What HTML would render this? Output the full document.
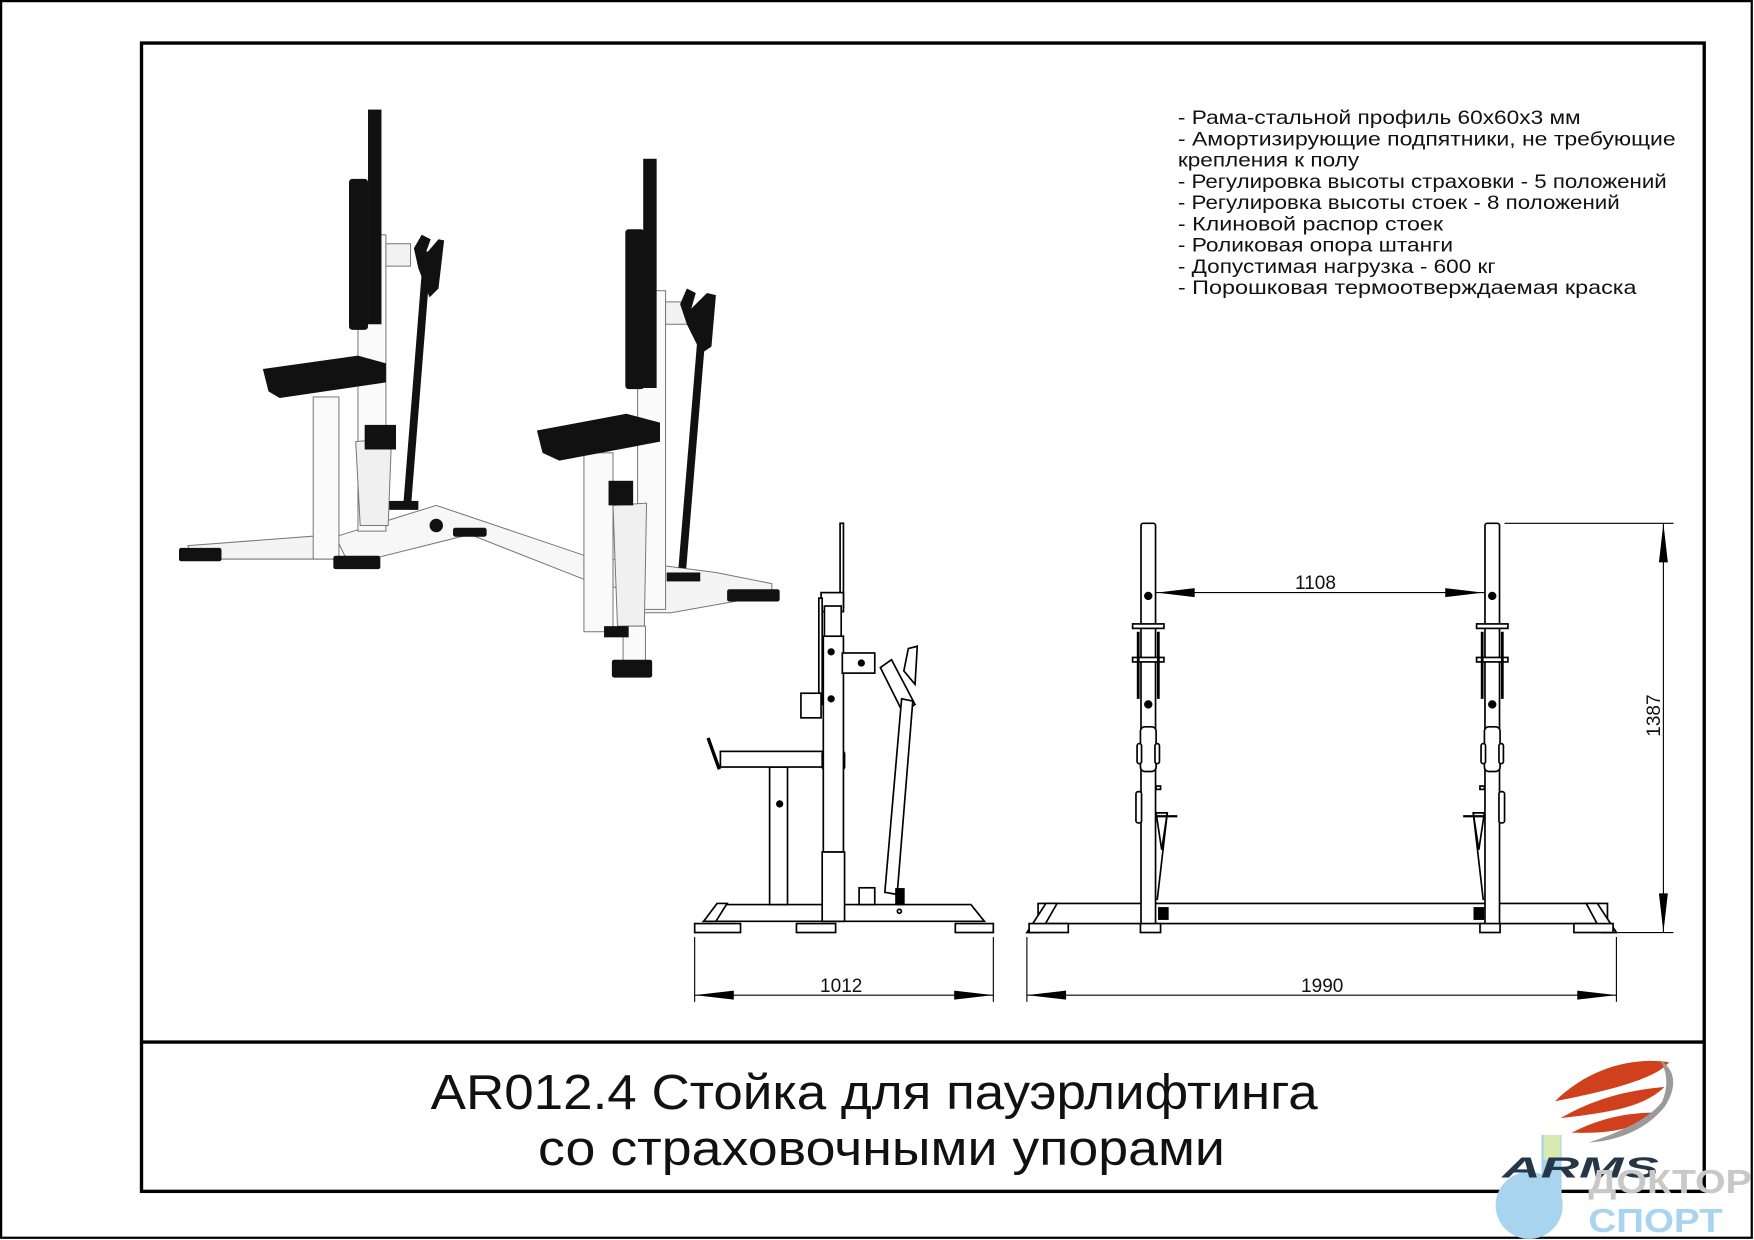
<!DOCTYPE html>
<html><head><meta charset="utf-8"><style>
html,body{margin:0;padding:0;background:#fff;}
svg{display:block;}
text{font-family:"Liberation Sans","DejaVu Sans",sans-serif;}
</style></head><body>
<svg width="1754" height="1240" viewBox="0 0 1568 1109" preserveAspectRatio="none" xmlns="http://www.w3.org/2000/svg">
<defs>
<g id="up" fill="#fff" stroke="#000" stroke-width="1.5">
  <rect x="-6.5" y="468" width="13" height="360" rx="2"/>
  <circle cx="0" cy="533" r="3" fill="#000"/>
  <circle cx="0" cy="630" r="3" fill="#000"/>
  <rect x="-14" y="558" width="28" height="4"/>
  <rect x="-14" y="588" width="28" height="4"/>
  <line x1="-9" y1="565" x2="-9" y2="625" stroke-width="2.5"/>
  <line x1="9" y1="565" x2="9" y2="625" stroke-width="2.5"/>
  <rect x="-7" y="650" width="14" height="40" rx="4"/>
  <rect x="-10" y="665" width="4" height="18" rx="2"/>
  <rect x="6" y="665" width="4" height="18" rx="2"/>
  <rect x="-11" y="708" width="5" height="28" rx="2"/>
  <rect x="7" y="703" width="4" height="3"/>
  <polygon points="7,727 17,727 12,760"/>
  <line x1="7" y1="730" x2="26" y2="730" stroke-width="2"/>
  <line x1="17" y1="727" x2="8" y2="805"/>
  <rect x="-7" y="826" width="18" height="8"/>
</g>
</defs>
<rect x="1" y="1" width="1565" height="1106" fill="none" stroke="#000" stroke-width="2"/>
<rect x="126.5" y="38.5" width="1397" height="1027" fill="none" stroke="#000" stroke-width="3"/>
<line x1="126" y1="932" x2="1524" y2="932" stroke="#000" stroke-width="3"/>

<!-- spec text -->
<g font-size="17.5" fill="#111" lengthAdjust="spacingAndGlyphs">
<text x="1053" y="111" textLength="360" lengthAdjust="spacingAndGlyphs">- Рама-стальной профиль 60x60x3 мм</text>
<text x="1053" y="130" textLength="445" lengthAdjust="spacingAndGlyphs">- Амортизирующие подпятники, не требующие</text>
<text x="1053" y="149" textLength="162" lengthAdjust="spacingAndGlyphs">крепления к полу</text>
<text x="1053" y="168" textLength="437" lengthAdjust="spacingAndGlyphs">- Регулировка высоты страховки - 5 положений</text>
<text x="1053" y="187" textLength="395" lengthAdjust="spacingAndGlyphs">- Регулировка высоты стоек - 8 положений</text>
<text x="1053" y="206" textLength="237" lengthAdjust="spacingAndGlyphs">- Клиновой распор стоек</text>
<text x="1053" y="225" textLength="246" lengthAdjust="spacingAndGlyphs">- Роликовая опора штанги</text>
<text x="1053" y="244" textLength="284" lengthAdjust="spacingAndGlyphs">- Допустимая нагрузка - 600 кг</text>
<text x="1053" y="263" textLength="410" lengthAdjust="spacingAndGlyphs">- Порошковая термоотверждаемая краска</text>
</g>

<!-- title -->
<g font-size="44" fill="#111">
<text x="385" y="992" textLength="793" lengthAdjust="spacingAndGlyphs">AR012.4 Стойка для пауэрлифтинга</text>
<text x="481" y="1042" textLength="614" lengthAdjust="spacingAndGlyphs">со страховочными упорами</text>
</g>

<!-- 3D render approximation -->
<g stroke="#777" stroke-width="0.9">
 <polygon points="168,488 300,478 302,500 172,500" fill="#f4f4f4"/>
 <polygon points="300,480 390,452 532,500 532,522 420,478 312,505" fill="#f7f7f7"/>
 <polygon points="532,498 640,512 690,522 690,532 600,548 575,548 575,530 532,522" fill="#f4f4f4"/>
 <rect x="280" y="355" width="23" height="145" fill="#fafafa"/>
 <rect x="320" y="210" width="25" height="265" fill="#fafafa"/>
 <polygon points="318,395 350,392 347,470 322,470" fill="#f0f0f0"/>
 <rect x="522" y="405" width="26" height="160" fill="#fafafa"/>
 <rect x="570" y="260" width="25" height="285" fill="#fafafa"/>
 <polygon points="548,452 578,450 576,560 552,560" fill="#f0f0f0"/>
 <rect x="557" y="560" width="20" height="40" fill="#fafafa"/>
 <rect x="345" y="218" width="22" height="20" fill="#f2f2f2"/>
 <rect x="595" y="270" width="22" height="20" fill="#f2f2f2"/>
</g>
<g fill="#111">
 <rect x="329" y="98" width="12" height="192"/>
 <rect x="312" y="160" width="17" height="135" rx="3"/>
 <rect x="575" y="142" width="12" height="205"/>
 <rect x="559" y="205" width="17" height="143" rx="3"/>
 <polygon points="235,330 320,318 345,325 345,342 250,356 240,350"/>
 <polygon points="480,385 560,370 590,378 590,395 500,412 485,405"/>
 <rect x="326" y="380" width="28" height="22"/>
 <rect x="544" y="430" width="22" height="22"/>
 <rect x="160" y="490" width="38" height="12" rx="2"/>
 <rect x="298" y="497" width="42" height="12" rx="2"/>
 <rect x="405" y="472" width="30" height="8" rx="2"/>
 <rect x="650" y="527" width="47" height="11" rx="2"/>
 <rect x="547" y="590" width="36" height="16" rx="2"/>
 <rect x="540" y="560" width="22" height="10"/>
 <rect x="596" y="512" width="30" height="8"/>
 <rect x="348" y="448" width="26" height="8"/>
 <circle cx="390" cy="470" r="6"/>
 <polygon points="370,222 377,210 385,214 380,228 392,214 397,215 392,258 384,266 374,240"/>
 <polygon points="608,272 614,258 622,262 618,276 632,262 640,264 636,310 627,316 614,290"/>
</g>
<line x1="382" y1="225" x2="364" y2="452" stroke="#111" stroke-width="7"/>
<line x1="628" y1="290" x2="610" y2="508" stroke="#111" stroke-width="7"/>

<!-- side view -->
<g fill="#fff" stroke="#000" stroke-width="1.5">
 <polygon points="629,824 880,824 868,809 645,809"/>
 <polygon points="629,824 641,808 650,808 640,824" />
 <rect x="621" y="826" width="41" height="8"/>
 <rect x="712" y="826" width="35" height="8"/>
 <rect x="854" y="826" width="34" height="8"/>
 <rect x="688" y="686" width="16" height="123"/>
 <rect x="644" y="672" width="110" height="14"/>
 <line x1="633" y1="660" x2="643" y2="688" stroke-width="3"/>
 <rect x="735" y="672" width="20" height="16" rx="2"/>
 <rect x="751" y="468" width="3" height="75"/>
 <rect x="734" y="530" width="20" height="17"/>
 <rect x="737" y="542" width="15" height="30"/>
 <rect x="736" y="569" width="18" height="193"/>
 <rect x="735" y="762" width="20" height="62"/>
 <rect x="732" y="535" width="3" height="95"/>
 <rect x="716" y="620" width="18" height="22"/>
 <rect x="753" y="584" width="29" height="18"/>
 <polygon points="787,597 797,590 818,630 807,637"/>
 <polygon points="806,625 816,627 802,800 791,798"/>
 <polygon points="808,600 812,580 820,578 818,612"/>
 <rect x="768" y="794" width="14" height="15"/>
 <circle cx="743" cy="625" r="2.5" fill="#000"/>
 <circle cx="743" cy="583" r="2.5" fill="#000"/>
 <circle cx="770" cy="593" r="2.5" fill="#000"/>
 <circle cx="697" cy="719" r="2.5" fill="#000"/>
 <circle cx="804" cy="815" r="1.8"/>
 <rect x="801" y="795" width="7" height="14" fill="#000"/>
</g>
<!-- front view -->
<g fill="#fff" stroke="#000" stroke-width="1.5">
 <rect x="928" y="808" width="509" height="18"/>
 <polygon points="918,834 935,808 945,808 930,834"/>
 <polygon points="1445,834 1428,808 1418,808 1432,834"/>
 <rect x="920" y="826" width="35" height="8"/>
 <rect x="1407" y="826" width="35" height="8"/>
 <rect x="1036" y="812" width="8" height="10" fill="#000"/>
 <rect x="1318" y="812" width="8" height="10" fill="#000"/>
</g>
<use href="#up" transform="translate(1026.5,0)"/>
<use href="#up" transform="translate(1334,0) scale(-1,1)"/>

<!-- dimensions -->
<g stroke="#000" stroke-width="1" fill="none">
 <line x1="621" y1="838" x2="621" y2="896"/>
 <line x1="888" y1="838" x2="888" y2="896"/>
 <line x1="621" y1="890" x2="888" y2="890"/>
 <line x1="918" y1="838" x2="918" y2="896"/>
 <line x1="1445" y1="838" x2="1445" y2="896"/>
 <line x1="918" y1="890" x2="1445" y2="890"/>
 <line x1="1033" y1="530" x2="1327" y2="530"/>
 <line x1="1345" y1="468" x2="1496" y2="468"/>
 <line x1="1446" y1="834" x2="1496" y2="834"/>
 <line x1="1487" y1="468" x2="1487" y2="834"/>
</g>
<g fill="#000">
 <polygon points="621,890 656,886 656,894"/>
 <polygon points="888,890 853,886 853,894"/>
 <polygon points="918,890 953,886 953,894"/>
 <polygon points="1445,890 1410,886 1410,894"/>
 <polygon points="1034,530 1068,526 1068,534"/>
 <polygon points="1326,530 1292,526 1292,534"/>
 <polygon points="1487,468 1483,503 1491,503"/>
 <polygon points="1487,834 1483,799 1491,799"/>
</g>
<g font-size="17" fill="#111" text-anchor="middle">
 <text x="752" y="887">1012</text>
 <text x="1182" y="887">1990</text>
 <text x="1176" y="527">1108</text>
 <text transform="translate(1484,640) rotate(-90)">1387</text>
</g>

<!-- logo -->
<path d="M1390,985 C1420,955 1460,945 1492,950 C1480,965 1440,975 1390,985 Z" fill="#d0401d"/>
<path d="M1395,1000 C1430,980 1460,975 1488,972 C1470,990 1440,995 1395,1000 Z" fill="#d0401d"/>
<path d="M1405,1013 C1430,1000 1455,995 1480,995 C1462,1010 1440,1014 1405,1013 Z" fill="#d0401d"/>
<path d="M1420,1022 C1450,1012 1475,1000 1486,985 C1492,970 1490,958 1484,948 C1500,958 1498,975 1488,990 C1470,1012 1445,1020 1420,1022 Z" fill="#9a9a9a"/>
<circle cx="1367" cy="1078" r="30" fill="#a8d4ef"/>
<rect x="1378" y="1015" width="18" height="70" fill="#a8d4ef"/>
<rect x="1380" y="1015" width="15" height="22" fill="#d9eab0"/>
<text x="1343" y="1053" font-size="26" font-style="italic" font-weight="bold" fill="#253746" textLength="140" lengthAdjust="spacingAndGlyphs">ARMS</text>
<text x="1420" y="1067" font-size="30" font-weight="bold" fill="#c8c8c8" textLength="146" lengthAdjust="spacingAndGlyphs">ДОКТОР</text>
<text x="1420" y="1102" font-size="30" font-weight="bold" fill="#a8d4ef" textLength="120" lengthAdjust="spacingAndGlyphs">СПОРТ</text>
</svg>
</body></html>
